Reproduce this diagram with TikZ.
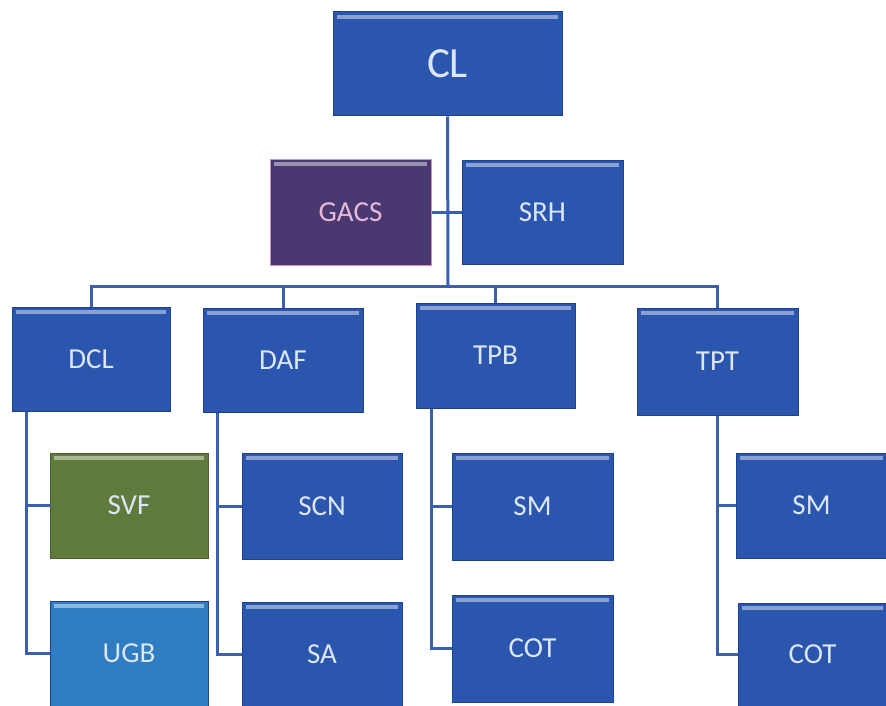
\documentclass[tikz,border=0pt]{standalone}
\usepackage{fontspec}
\setmainfont{Carlito}
\definecolor{boxblue}{HTML}{2A56AE}
\definecolor{boxedge}{HTML}{1E4290}
\definecolor{gacsfill}{HTML}{4A3870}
\definecolor{gacsedge}{HTML}{D68AC0}
\definecolor{svffill}{HTML}{5F7B3C}
\definecolor{svfedge}{HTML}{4A6030}
\definecolor{ugbfill}{HTML}{2F7CC2}
\definecolor{linecol}{HTML}{3A5FB0}
\definecolor{txtcol}{HTML}{DCE6F8}
\begin{document}
\begin{tikzpicture}[x=1pt,y=-1pt,
  box/.style={rectangle, fill=boxblue, draw=boxedge, line width=1pt,
    text=txtcol, font=\fontsize{29}{30}\selectfont, inner sep=0pt,
    path picture={\fill[white,opacity=0.45]
      ([xshift=4pt,yshift=-3pt]path picture bounding box.north west) rectangle
      ([xshift=-4pt,yshift=-7pt]path picture bounding box.north east);}},
  conn/.style={draw=linecol, line width=3pt}]
\useasboundingbox (0,0) rectangle (886,706);
% top
\node[box, minimum width=229pt, minimum height=104pt, font=\fontsize{43}{44}\selectfont] (CL) at (447.5,64) {CL};
\node[box, fill=gacsfill, draw=gacsedge, text=gacsedge!60!white, minimum width=161pt, minimum height=106pt] (GACS) at (350.5,212) {GACS};
\node[box, minimum width=161pt, minimum height=104pt] (SRH) at (542.5,212) {SRH};
% second level
\node[box, minimum width=158pt, minimum height=104pt] (DCL) at (91,359) {DCL};
\node[box, minimum width=160pt, minimum height=104pt] (DAF) at (283,360) {DAF};
\node[box, minimum width=159pt, minimum height=105pt] (TPB) at (495.5,355.5) {TPB};
\node[box, minimum width=161pt, minimum height=107pt] (TPT) at (717.5,361.5) {TPT};
% third level
\node[box, fill=svffill, draw=svfedge, minimum width=158pt, minimum height=105pt] (SVF) at (129,505.5) {SVF};
\node[box, fill=ugbfill, minimum width=158pt, minimum height=105pt] (UGB) at (129,653.5) {UGB};
\node[box, minimum width=160pt, minimum height=106pt] (SCN) at (322,506) {SCN};
\node[box, minimum width=160pt, minimum height=104pt] (SA) at (322,654) {SA};
\node[box, minimum width=161pt, minimum height=107pt] (SM1) at (532.5,506.5) {SM};
\node[box, minimum width=161pt, minimum height=107pt] (COT1) at (532.5,648.5) {COT};
\node[box, minimum width=151pt, minimum height=105pt] (SM2) at (811.5,505.5) {SM};
\node[box, minimum width=149pt, minimum height=103pt] (COT2) at (812.5,654.5) {COT};
% connectors
\coordinate (hub) at (448,286);
\draw[conn] (CL.south) -- (hub);
\draw[conn] (GACS.east) -- (SRH.west);
\draw[conn] (DCL.north) -- (DCL.north |- hub) -- (TPT.north |- hub) -- (TPT.north);
\draw[conn] (DAF.north) -- (DAF.north |- hub);
\draw[conn] (TPB.north) -- (TPB.north |- hub);
\draw[conn] ([xshift=15pt]DCL.south west) |- (SVF.west);
\draw[conn] ([xshift=15pt]DCL.south west) |- (UGB.west);
\draw[conn] ([xshift=15pt]DAF.south west) |- (SCN.west);
\draw[conn] ([xshift=15pt]DAF.south west) |- (SA.west);
\draw[conn] ([xshift=16pt]TPB.south west) |- (SM1.west);
\draw[conn] ([xshift=16pt]TPB.south west) |- (COT1.west);
\draw[conn] (TPT.south) |- (SM2.west);
\draw[conn] (TPT.south) |- (COT2.west);
\end{tikzpicture}
\end{document}
